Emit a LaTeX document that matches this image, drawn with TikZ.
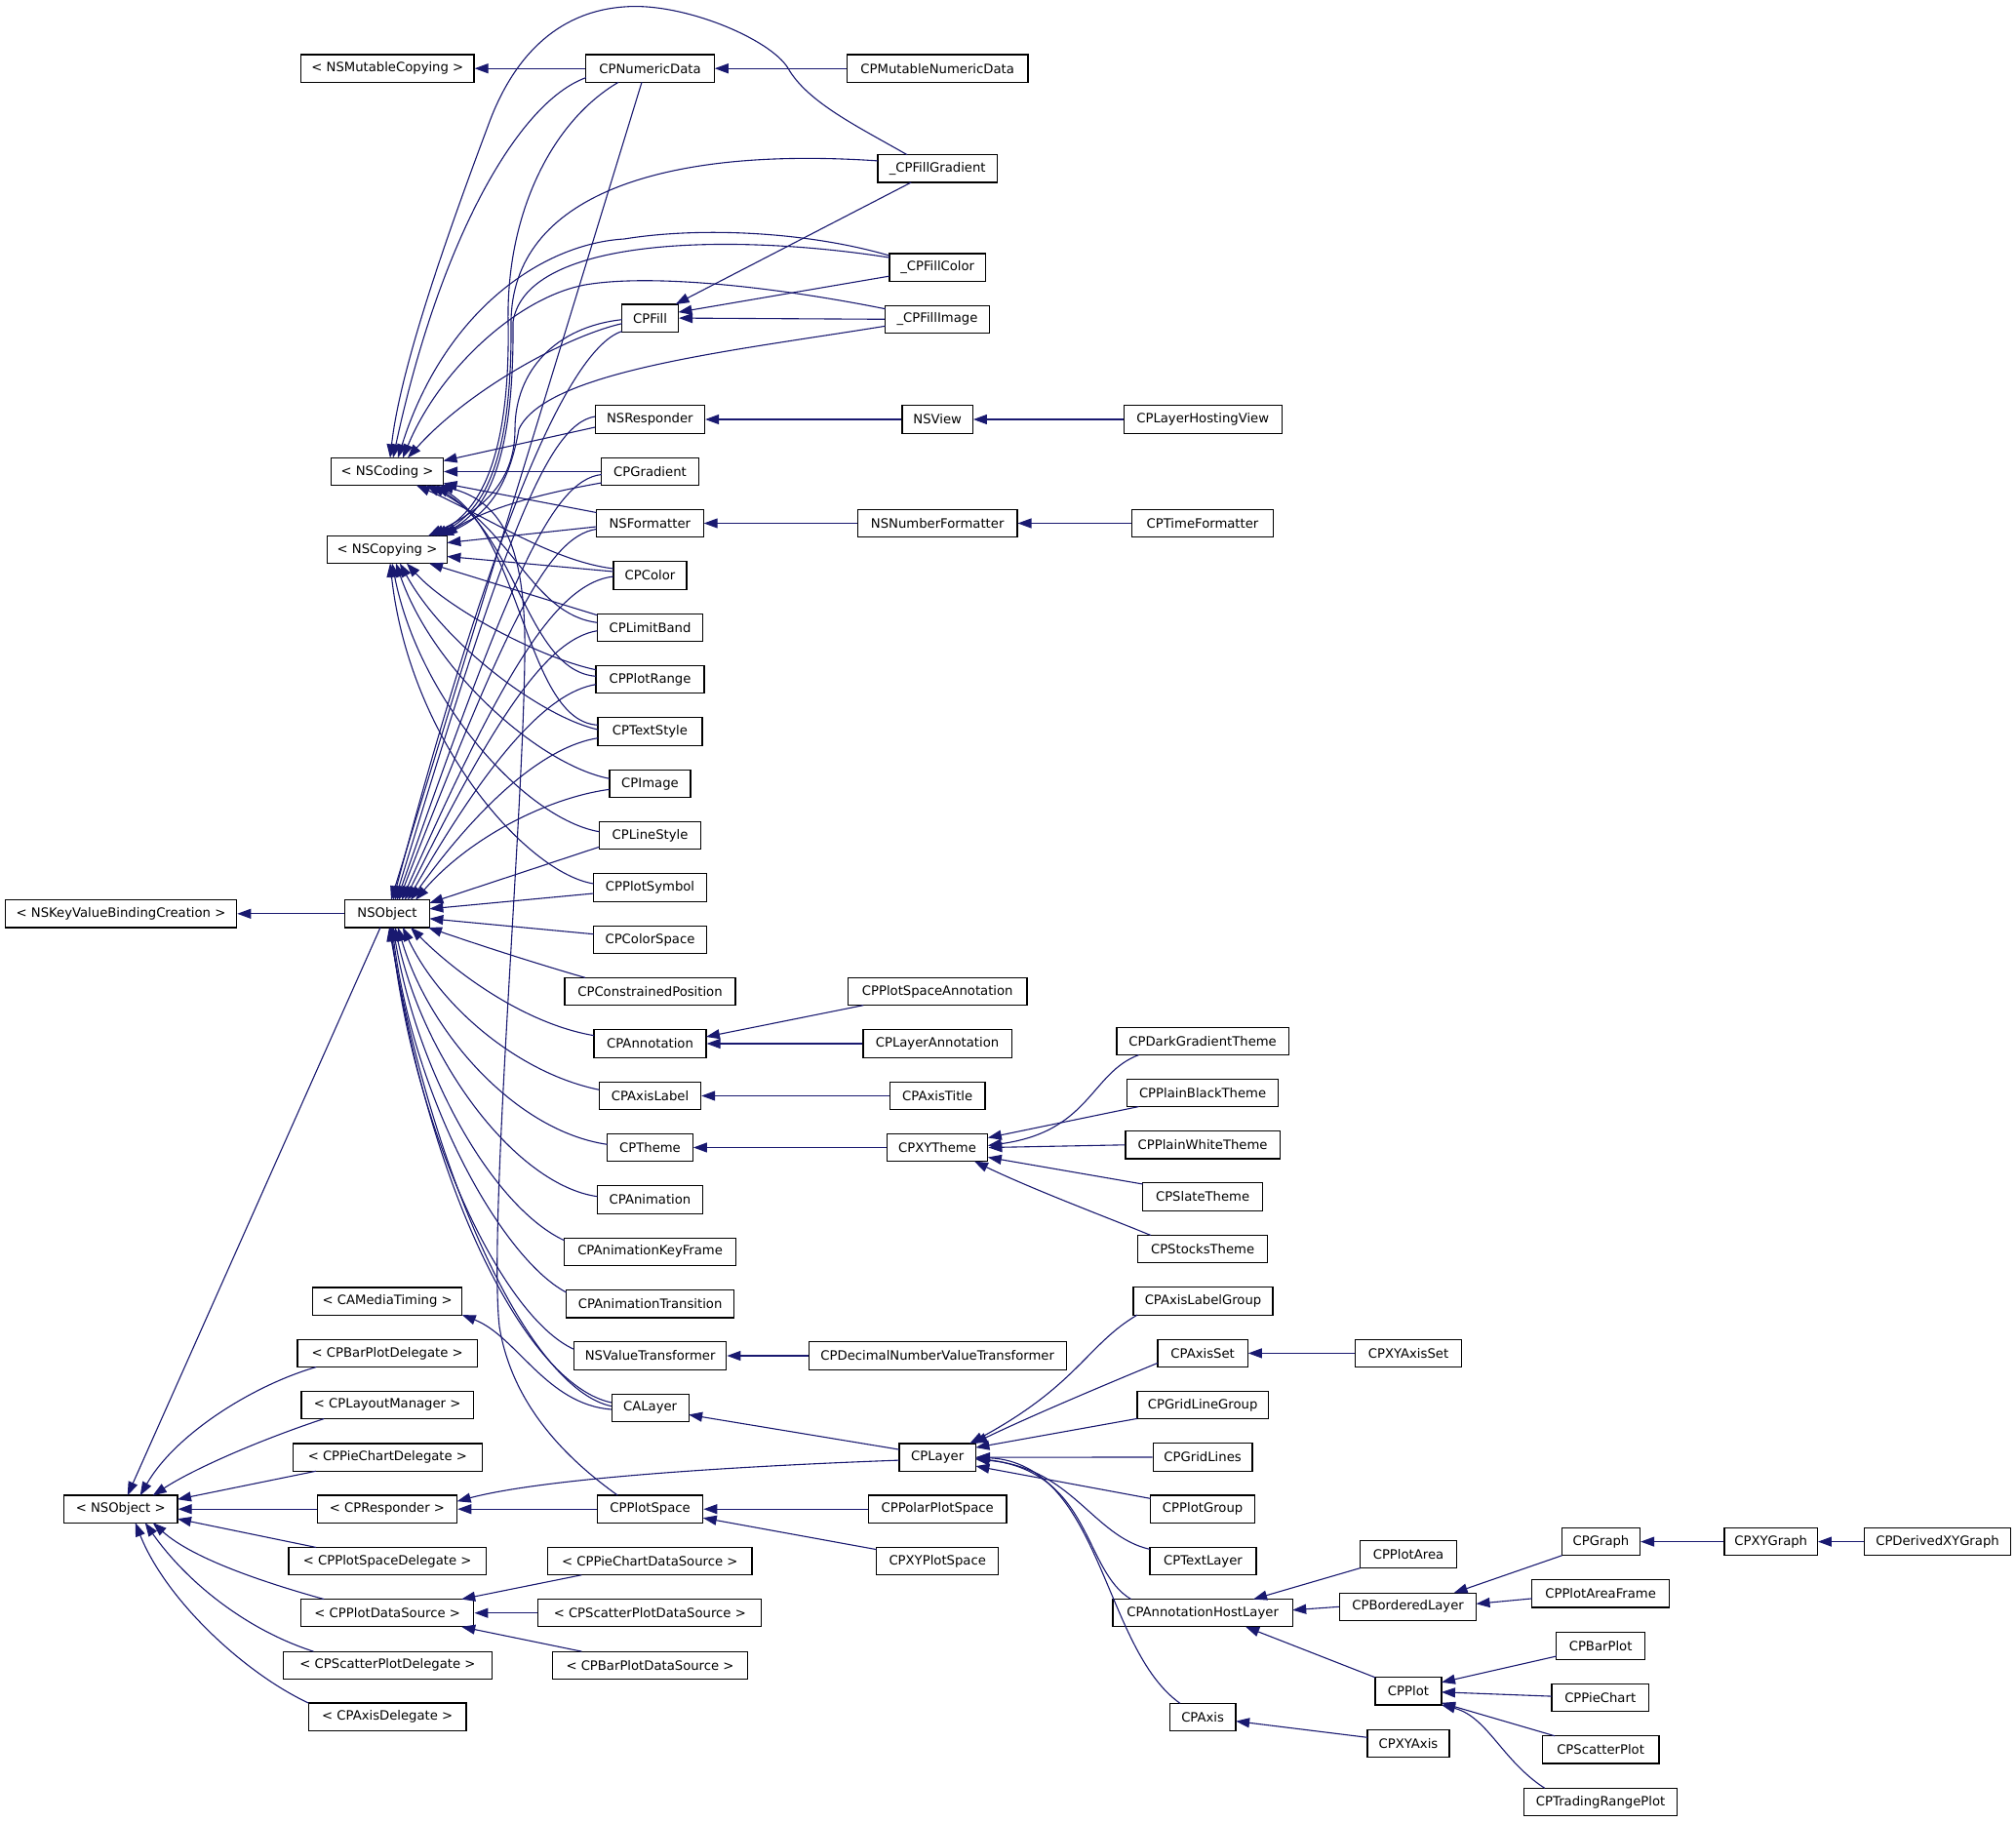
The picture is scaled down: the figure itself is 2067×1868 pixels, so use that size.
\documentclass[tikz,border=0pt]{standalone}
\usepackage{fontspec}
\setmainfont{DejaVu Sans}
\usetikzlibrary{arrows.meta,calc}
\definecolor{navy}{RGB}{25,25,112}
\begin{document}
\begin{tikzpicture}[x=0.5pt,y=-0.5pt,
  box/.style={draw=black, line width=0.6pt, fill=white, minimum height=14.15pt, inner sep=0pt, font=\fontsize{6.6}{7.9}\selectfont},
  bw/.style={minimum width=#1*0.5pt},
  edge/.style={draw=navy, line width=0.55pt, -{Triangle[length=7pt,width=5pt]}}]
\fill[white] (0,0) rectangle (2067,1868);
\useasboundingbox (0,0) rectangle (2067,1868);
% ---------- nodes ----------
\node[box,bw=237.3] (nskvbc) at (124,936.8) {< NSKeyValueBindingCreation >};
\node[box,bw=116.6] (nsobjp) at (123.7,1547.2) {< NSObject >};
\node[box,bw=177.4] (nsmc) at (397.3,70.2) {< NSMutableCopying >};
\node[box,bw=115] (nscoding) at (397,483.5) {< NSCoding >};
\node[box,bw=122.7] (nscopying) at (397,563.5) {< NSCopying >};
\node[box,bw=86.8] (nsobject) at (397,936.8) {NSObject};
\node[box,bw=153.2] (camt) at (397.2,1334.1) {< CAMediaTiming >};
\node[box,bw=184.6] (cpbpd) at (397.2,1387.4) {< CPBarPlotDelegate >};
\node[box,bw=176.3] (cplm) at (397.2,1440.4) {< CPLayoutManager >};
\node[box,bw=193.5] (cppcd) at (397.4,1494.1) {< CPPieChartDelegate >};
\node[box,bw=143.3] (cpresp) at (397,1547.2) {< CPResponder >};
\node[box,bw=202.4] (cppsd) at (397.2,1600.6) {< CPPlotSpaceDelegate >};
\node[box,bw=177.3] (cppds) at (397.2,1653.7) {< CPPlotDataSource >};
\node[box,bw=213.4] (cpspd) at (397.5,1707.3) {< CPScatterPlotDelegate >};
\node[box,bw=161.6] (cpad) at (397.2,1760.2) {< CPAxisDelegate >};
\node[box,bw=131.3] (cpnd) at (666.5,70.2) {CPNumericData};
\node[box,bw=57.7] (cpfill) at (666.6,326.1) {CPFill};
\node[box,bw=112.4] (nsresp) at (666.3,430) {NSResponder};
\node[box,bw=99.3] (cpgrad) at (666.5,483.5) {CPGradient};
\node[box,bw=109.6] (nsfmt) at (666.3,536.5) {NSFormatter};
\node[box,bw=75.1] (cpcolor) at (666.5,590) {CPColor};
\node[box,bw=108.1] (cplb) at (666.5,643.5) {CPLimitBand};
\node[box,bw=111] (cppr) at (666.5,696.5) {CPPlotRange};
\node[box,bw=107.1] (cpts) at (666.5,750) {CPTextStyle};
\node[box,bw=82.9] (cpimg) at (666.5,803.5) {CPImage};
\node[box,bw=104.2] (cpls) at (666.5,856.5) {CPLineStyle};
\node[box,bw=115.9] (cpps) at (666.5,910) {CPPlotSymbol};
\node[box,bw=115.9] (cpcs) at (666.5,963.5) {CPColorSpace};
\node[box,bw=175] (cpcp) at (666.5,1016.5) {CPConstrainedPosition};
\node[box,bw=114.9] (cpann) at (666.5,1070) {CPAnnotation};
\node[box,bw=104.2] (cpal) at (666.5,1123.5) {CPAxisLabel};
\node[box,bw=87.7] (cptheme) at (666.5,1176.5) {CPTheme};
\node[box,bw=108.1] (cpanim) at (666.5,1230) {CPAnimation};
\node[box,bw=176.2] (cpakf) at (666.6,1283.3) {CPAnimationKeyFrame};
\node[box,bw=172.1] (cpat) at (666.6,1336.9) {CPAnimationTransition};
\node[box,bw=156.4] (nsvt) at (666.6,1390) {NSValueTransformer};
\node[box,bw=79] (calayer) at (666.6,1443.4) {CALayer};
\node[box,bw=108.3] (cpplotspace) at (666.6,1547.2) {CPPlotSpace};
\node[box,bw=209.2] (cppcds) at (666.3,1600.6) {< CPPieChartDataSource >};
\node[box,bw=229.1] (cpspds) at (666.3,1653.7) {< CPScatterPlotDataSource >};
\node[box,bw=200.3] (cpbpds) at (666.5,1707.3) {< CPBarPlotDataSource >};
\node[box,bw=185.7] (cpmnd) at (961.2,70.2) {CPMutableNumericData};
\node[box,bw=122.6] (fgrad) at (961.2,172.9) {\_CPFillGradient};
\node[box,bw=98.4] (fcolor) at (961.2,274.1) {\_CPFillColor};
\node[box,bw=106.6] (fimage) at (961,327.3) {\_CPFillImage};
\node[box,bw=72.3] (nsview) at (961.2,430) {NSView};
\node[box,bw=163.4] (nsnf) at (961.2,536.5) {NSNumberFormatter};
\node[box,bw=183.4] (cppsa) at (961.2,1016.5) {CPPlotSpaceAnnotation};
\node[box,bw=152.2] (cpla) at (961,1070) {CPLayerAnnotation};
\node[box,bw=97.4] (cpaxt) at (961.2,1123.5) {CPAxisTitle};
\node[box,bw=103.7] (cpxyt) at (961,1176.5) {CPXYTheme};
\node[box,bw=264.2] (cpdnvt) at (961.2,1390) {CPDecimalNumberValueTransformer};
\node[box,bw=78.4] (cplayer) at (961.2,1494.1) {CPLayer};
\node[box,bw=141.4] (cppolar) at (961.2,1547.2) {CPPolarPlotSpace};
\node[box,bw=125.2] (cpxyps) at (961.2,1600.6) {CPXYPlotSpace};
\node[box,bw=162.1] (cplhv) at (1233.2,430) {CPLayerHostingView};
\node[box,bw=144.6] (cptf) at (1233,536.5) {CPTimeFormatter};
\node[box,bw=176.2] (cpdgt) at (1233.1,1067.4) {CPDarkGradientTheme};
\node[box,bw=155.2] (cppbt) at (1233.1,1120.4) {CPPlainBlackTheme};
\node[box,bw=158.4] (cppwt) at (1233.1,1173.8) {CPPlainWhiteTheme};
\node[box,bw=122.8] (cpst) at (1233.1,1227) {CPSlateTheme};
\node[box,bw=132.6] (cpstk) at (1233.1,1280.6) {CPStocksTheme};
\node[box,bw=143] (cpalg) at (1233.5,1334) {CPAxisLabelGroup};
\node[box,bw=92.2] (cpaxisset) at (1233.1,1387.4) {CPAxisSet};
\node[box,bw=134.2] (cpglg) at (1233.1,1440.4) {CPGridLineGroup};
\node[box,bw=101.8] (cpgl) at (1233.1,1494) {CPGridLines};
\node[box,bw=106.6] (cppg) at (1233.1,1547.2) {CPPlotGroup};
\node[box,bw=109] (cptl) at (1233.5,1600.6) {CPTextLayer};
\node[box,bw=184.2] (cpahl) at (1233.1,1653.7) {CPAnnotationHostLayer};
\node[box,bw=67.9] (cpaxis) at (1233.1,1760.6) {CPAxis};
\node[box,bw=108.3] (cpxyas) at (1444,1387.4) {CPXYAxisSet};
\node[box,bw=98.6] (cpplotarea) at (1444,1593.6) {CPPlotArea};
\node[box,bw=139.8] (cpbl) at (1443.6,1647.3) {CPBorderedLayer};
\node[box,bw=67.9] (cpplot) at (1444,1733.8) {CPPlot};
\node[box,bw=84] (cpxyaxis) at (1444,1787.3) {CPXYAxis};
\node[box,bw=80] (cpgraph) at (1641.5,1580.6) {CPGraph};
\node[box,bw=140.6] (cppaf) at (1641.1,1633.9) {CPPlotAreaFrame};
\node[box,bw=90.5] (cpbarplot) at (1641.1,1687.3) {CPBarPlot};
\node[box,bw=99.4] (cppie) at (1640.7,1740.6) {CPPieChart};
\node[box,bw=119.6] (cpscat) at (1641.1,1793.9) {CPScatterPlot};
\node[box,bw=156.7] (cptrp) at (1641.1,1847.5) {CPTradingRangePlot};
\node[box,bw=95.3] (cpxyg) at (1815.7,1580.6) {CPXYGraph};
\node[box,bw=149.5] (cpdxyg) at (1986.5,1580.6) {CPDerivedXYGraph};
% ---------- simple edges ----------
\draw[edge] (cpnd.west) -- (nsmc.east);
\draw[edge] (cpmnd.west) -- (cpnd.east);
\draw[edge] (nsobject.west) -- (nskvbc.east);
\draw[edge] (nsview.west) -- (nsresp.east);
\draw[edge] (cplhv.west) -- (nsview.east);
\draw[edge] (nsnf.west) -- (nsfmt.east);
\draw[edge] (cptf.west) -- (nsnf.east);
\draw[edge] ($(fgrad)+(-27,14.15)$) -- ($(cpfill)+(26,-14.15)$);
\draw[edge] ($(fcolor)+(-49.2,9)$) -- ($(cpfill)+(28.85,-6)$);
\draw[edge] (fimage.west) -- (cpfill.east);
\draw[edge] ($(cppsa)+(-76,14.15)$) -- ($(cpann)+(57.45,-7)$);
\draw[edge] (cpla.west) -- (cpann.east);
\draw[edge] (cpaxt.west) -- (cpal.east);
\draw[edge] (cpxyt.west) -- (cptheme.east);
\draw[edge] (cpdnvt.west) -- (nsvt.east);
\draw[edge] (cpxyas.west) -- (cpaxisset.east);
\draw[edge] (cpxyg.west) -- (cpgraph.east);
\draw[edge] (cpdxyg.west) -- (cpxyg.east);
\draw[edge] (cpresp.west) -- (nsobjp.east);
\draw[edge] (cpplotspace.west) -- (cpresp.east);
\draw[edge] (cppolar.west) -- (cpplotspace.east);
\draw[edge] ($(cpxyps)+(-62.6,-12)$) -- ($(cpplotspace)+(54.15,9)$);
\draw[edge] ($(cppcds)+(-70,14.15)$) -- ($(cppds)+(76,-14.15)$);
\draw[edge] (cpspds.west) -- (cppds.east);
\draw[edge] ($(cpbpds)+(-70,-14.15)$) -- ($(cppds)+(76,14.15)$);
\draw[edge] ($(cplayer)+(-39.2,-8)$) -- ($(calayer)+(39.5,7)$);
\draw[edge] ($(cplayer)+(-39.2,3)$) .. controls (760,1503) and (560,1515) .. ($(cpresp)+(71.65,-8)$);
% CPXYTheme
\draw[edge] ($(cpdgt)+(-65.5,14.15)$) .. controls (1118,1100) and (1118,1160) .. ($(cpxyt)+(51.85,-2)$);
\draw[edge] ($(cppbt)+(-65.5,14.15)$) -- ($(cpxyt)+(51.85,-10)$);
\draw[edge] (cppwt.west) -- (cpxyt.east);
\draw[edge] ($(cpst)+(-61.4,-13)$) -- ($(cpxyt)+(51.85,10)$);
\draw[edge] ($(cpstk)+(-53.3,-14.15)$) .. controls (1140,1250) and (1060,1220) .. ($(cpxyt)+(38,14.15)$);
% CPLayer
\draw[edge] ($(cpalg)+(-67.5,14.15)$) .. controls (1115,1378) and (1105,1420) .. ($(cplayer)+(33,-14.15)$);
\draw[edge] ($(cpaxisset)+(-46.1,10)$) .. controls (1120,1425) and (1050,1455) .. ($(cplayer)+(37,-14.15)$);
\draw[edge] ($(cpglg)+(-67.1,14)$) -- ($(cplayer)+(39.2,-10)$);
\draw[edge] (cpgl.west) -- (cplayer.east);
\draw[edge] ($(cppg)+(-53.3,-10.8)$) -- ($(cplayer)+(39.2,9)$);
\draw[edge] ($(cptl)+(-54.5,-12.2)$) .. controls (1120,1575) and (1100,1505) .. ($(cplayer)+(39.2,2)$);
\draw[edge] ($(cpahl)+(-73.5,-14.15)$) .. controls (1110,1610) and (1120,1510) .. ($(cplayer)+(39.2,1)$);
\draw[edge] ($(cpaxis)+(-23,-14.15)$) .. controls (1130,1690) and (1130,1500) .. ($(cplayer)+(39.2,0)$);
% CPAnnotationHostLayer and below
\draw[edge] ($(cpplotarea)+(-49.3,14)$) -- ($(cpahl)+(52,-14.15)$);
\draw[edge] (cpbl.west) -- ($(cpahl)+(92.1,-3)$);
\draw[edge] ($(cpplot)+(-34,-14)$) -- ($(cpahl)+(44,14.15)$);
\draw[edge] ($(cpgraph)+(-40,14.15)$) -- ($(cpbl)+(47,-14.15)$);
\draw[edge] ($(cppaf)+(-70.3,5)$) -- ($(cpbl)+(69.9,-3)$);
\draw[edge] ($(cpbarplot)+(-45.25,10.7)$) -- ($(cpplot)+(33.95,-9)$);
\draw[edge] ($(cppie)+(-49.7,-1.5)$) -- ($(cpplot)+(33.95,1)$);
\draw[edge] ($(cpscat)+(-47,-14.15)$) -- ($(cpplot)+(33.95,12)$);
\draw[edge] ($(cptrp)+(-57.3,-14.15)$) .. controls (1540,1805) and (1525,1760) .. ($(cpplot)+(33.95,14.15)$);
\draw[edge] ($(cpxyaxis)+(-42,-6)$) -- ($(cpaxis)+(34,4)$);
% <NSObject>
\draw[edge] ($(nsobject)+(-7,14.1)$) -- ($(nsobjp)+(7,-14)$);
\draw[edge] ($(cpbpd)+(-73,14.15)$) .. controls (260,1420) and (180,1470) .. ($(nsobjp)+(20,-14)$);
\draw[edge] ($(cplm)+(-65,14.15)$) .. controls (270,1475) and (200,1505) .. ($(nsobjp)+(33,-14)$);
\draw[edge] ($(cppcd)+(-73.4,14.15)$) -- ($(nsobjp)+(58.3,-10)$);
\draw[edge] ($(cppsd)+(-73,-14.15)$) -- ($(nsobjp)+(58.3,10)$);
\draw[edge] ($(cppds)+(-65,-14.15)$) .. controls (280,1625) and (200,1600) .. ($(nsobjp)+(33,14)$);
\draw[edge] ($(cpspd)+(-76,-14.15)$) .. controls (250,1670) and (190,1620) .. ($(nsobjp)+(25,14)$);
\draw[edge] ($(cpad)+(-80.8,-14.15)$) .. controls (250,1715) and (170,1640) .. ($(nsobjp)+(15,14)$);
% ---------- NSCoding ----------
\draw[edge] ($(fgrad)+(-31,-14.15)$) .. controls (880,130) and (828,105) .. (808,70)
   .. controls (790,40) and (700,2) .. (640,7) .. controls (570,12) and (525,60) .. (500,130)
   .. controls (455,250) and (410,380) .. ($(nscoding)+(3,-14.1)$);
\draw[edge] ($(cpnd)+(-65.6,9.4)$) .. controls (530,105) and (450,250) .. ($(nscoding)+(6,-14.1)$);
\draw[edge] ($(fcolor)+(-49.2,-12)$) .. controls (830,238) and (720,232) .. (640,245)
   .. controls (555,250) and (455,320) .. ($(nscoding)+(11,-14.1)$);
\draw[edge] ($(fimage)+(-53.3,-10.6)$) .. controls (800,295) and (670,280) .. (600,292)
   .. controls (530,305) and (450,380) .. ($(nscoding)+(16,-14.1)$);
\draw[edge] ($(cpfill)+(-28.85,5.6)$) .. controls (580,345) and (480,400) .. ($(nscoding)+(21,-14.1)$);
\draw[edge] ($(nsresp)+(-56.2,8)$) -- ($(nscoding)+(57.5,-11)$);
\draw[edge] (cpgrad.west) -- (nscoding.east);
\draw[edge] ($(nsfmt)+(-54.8,-11)$) -- ($(nscoding)+(57.5,12)$);
\draw[edge] ($(cpcolor)+(-37.55,-7)$) .. controls (565,575) and (500,530) .. ($(nscoding)+(30,14.1)$);
\draw[edge] ($(cplb)+(-54.05,-5.2)$) .. controls (545,630) and (525,540) .. ($(nscoding)+(40,14.1)$);
\draw[edge] ($(cppr)+(-55.5,-3.2)$) .. controls (540,688) and (530,545) .. ($(nscoding)+(45,14.1)$);
\draw[edge] ($(cpts)+(-53.55,-6.7)$) .. controls (540,740) and (535,550) .. ($(nscoding)+(50,14.1)$);
\draw[edge] ($(cpplotspace)+(-33.3,-14.15)$) .. controls (580,1495) and (525,1440) .. (512,1360)
   .. controls (500,1250) and (540,800) .. (538,650) .. controls (536,560) and (515,515) .. ($(nscoding)+(54,14.1)$);
% ---------- NSCopying ----------
\draw[edge] ($(cpnd)+(-32.5,14.15)$) .. controls (565,125) and (519,220) .. (521,330)
   .. controls (523,450) and (500,520) .. ($(nscopying)+(45,-14.1)$);
\draw[edge] ($(fgrad)+(-61.3,-8)$) .. controls (680,150) and (525,200) .. (524,330)
   .. controls (525,450) and (505,520) .. ($(nscopying)+(48,-14.1)$);
\draw[edge] ($(fcolor)+(-49.2,-10)$) .. controls (760,240) and (540,240) .. (526,330)
   .. controls (527,450) and (508,522) .. ($(nscopying)+(51,-14.1)$);
\draw[edge] ($(fimage)+(-53.3,7)$) .. controls (750,360) and (560,380) .. (532,440)
   .. controls (525,480) and (510,525) .. ($(nscopying)+(54,-14.1)$);
\draw[edge] ($(cpfill)+(-28.85,1.6)$) .. controls (570,335) and (528,380) .. (528,440)
   .. controls (528,490) and (500,520) .. ($(nscopying)+(42,-14.1)$);
\draw[edge] ($(cpgrad)+(-49.65,11.5)$) .. controls (560,505) and (500,520) .. ($(nscopying)+(58,-14.1)$);
\draw[edge] ($(nsfmt)+(-54.8,3.5)$) -- ($(nscopying)+(61.35,-7)$);
\draw[edge] ($(cpcolor)+(-37.55,-4)$) -- ($(nscopying)+(61.35,7)$);
\draw[edge] ($(cplb)+(-54.05,-12.8)$) -- ($(nscopying)+(43,14.1)$);
\draw[edge] ($(cppr)+(-55.5,-9.8)$) .. controls (555,675) and (460,625) .. ($(nscopying)+(20,14.1)$);
\draw[edge] ($(cpts)+(-53.55,-2)$) .. controls (555,735) and (455,660) .. ($(nscopying)+(13,14.1)$);
\draw[edge] ($(cpimg)+(-41.45,-5.2)$) .. controls (555,785) and (445,690) .. ($(nscopying)+(9,14.1)$);
\draw[edge] ($(cpls)+(-52.1,-3.8)$) .. controls (540,840) and (430,720) .. ($(nscopying)+(5,14.1)$);
\draw[edge] ($(cpps)+(-57.95,-4)$) .. controls (540,895) and (420,760) .. ($(nscopying)+(3,14.1)$);
% ---------- NSObject ----------
\draw[edge] ($(cpnd)+(-8.5,14.15)$) -- ($(nsobject)+(4,-14.1)$);
\draw[edge] ($(cpfill)+(-28.85,13.5)$) .. controls (590,355) and (515,500) .. ($(nsobject)+(6,-14.1)$);
\draw[edge] ($(nsresp)+(-56.2,-3)$) .. controls (560,435) and (515,560) .. ($(nsobject)+(8,-14.1)$);
\draw[edge] ($(cpgrad)+(-49.65,3)$) .. controls (565,492) and (520,600) .. ($(nsobject)+(10,-14.1)$);
\draw[edge] ($(nsfmt)+(-54.8,6)$) .. controls (560,550) and (515,650) .. ($(nsobject)+(12,-14.1)$);
\draw[edge] ($(cpcolor)+(-37.55,1)$) .. controls (570,598) and (515,690) .. ($(nsobject)+(15,-14.1)$);
\draw[edge] ($(cplb)+(-54.05,3.2)$) .. controls (560,655) and (505,740) .. ($(nsobject)+(18,-14.1)$);
\draw[edge] ($(cppr)+(-55.5,5.2)$) .. controls (560,710) and (500,780) .. ($(nsobject)+(21,-14.1)$);
\draw[edge] ($(cpts)+(-53.55,6.7)$) .. controls (560,765) and (495,820) .. ($(nsobject)+(24,-14.1)$);
\draw[edge] ($(cpimg)+(-41.45,5.8)$) .. controls (560,818) and (480,860) .. ($(nsobject)+(29,-14.1)$);
\draw[edge] ($(cpls)+(-52.1,11.8)$) -- ($(nsobject)+(43.4,-11)$);
\draw[edge] ($(cpps)+(-57.95,6)$) -- ($(nsobject)+(43.4,-5)$);
\draw[edge] ($(cpcs)+(-57.95,-5.8)$) -- ($(nsobject)+(43.4,5)$);
\draw[edge] ($(cpcp)+(-66.5,-14.15)$) .. controls (540,985) and (480,965) .. ($(nsobject)+(42,14.1)$);
\draw[edge] ($(cpann)+(-57.45,-8.3)$) .. controls (540,1050) and (470,1000) .. ($(nsobject)+(24,14.1)$);
\draw[edge] ($(cpal)+(-52.1,-6.2)$) .. controls (530,1100) and (450,1030) .. ($(nsobject)+(16,14.1)$);
\draw[edge] ($(cptheme)+(-43.85,-3.2)$) .. controls (530,1160) and (440,1060) .. ($(nsobject)+(11,14.1)$);
\draw[edge] ($(cpanim)+(-54.05,-3.3)$) .. controls (530,1215) and (435,1090) .. ($(nsobject)+(8,14.1)$);
\draw[edge] ($(cpakf)+(-88.1,-11.6)$) .. controls (510,1240) and (430,1110) .. ($(nsobject)+(6,14.1)$);
\draw[edge] ($(cpat)+(-86.05,-11.9)$) .. controls (515,1290) and (425,1130) .. ($(nsobject)+(5,14.1)$);
\draw[edge] ($(nsvt)+(-78.2,-6.7)$) .. controls (515,1350) and (425,1160) .. ($(nsobject)+(4,14.1)$);
\draw[edge] ($(calayer)+(-39.5,-5.4)$) .. controls (540,1420) and (440,1220) .. ($(nsobject)+(3,14.1)$);
\draw[edge] ($(calayer)+(-39.5,-1.7)$) .. controls (545,1425) and (445,1215) .. ($(nsobject)+(2,14.1)$);
\draw[edge] ($(calayer)+(-39.5,1.6)$) .. controls (560,1440) and (530,1370) .. ($(camt)+(76.6,14)$);
\end{tikzpicture}
\end{document}
